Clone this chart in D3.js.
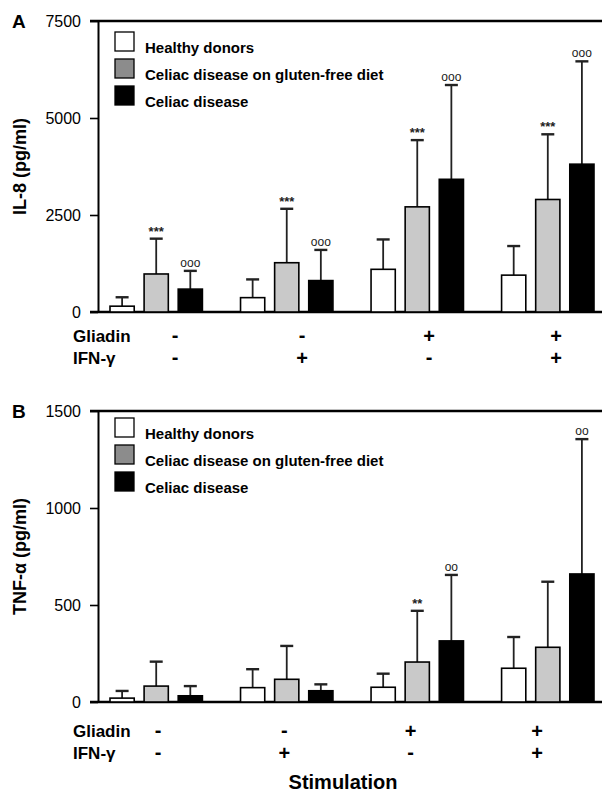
<!DOCTYPE html>
<html>
<head>
<meta charset="utf-8">
<script src="https://cdn.jsdelivr.net/npm/d3@7"></script>
<style>
  body { margin: 0; background: #fff; }
  text { font-family: "Liberation Sans", Arial, sans-serif; }
</style>
</head>
<body>
<div id="chart"></div>
<script>
// stimulation conditions
const groups = ['c1', 'c2', 'c3', 'c4'];
const gliadin = ['-', '-', '+', '+'];
const ifng = ['-', '+', '-', '+'];
const seriesNames = ['Healthy donors', 'Celiac disease on gluten-free diet', 'Celiac disease'];

// IL-8 (pg/ml): means and upper end of error bars
const il8Healthy = [150, 370, 1100, 950];
const il8HealthyTop = [380, 840, 1870, 1700];
const il8Gfd = [980, 1270, 2710, 2900];
const il8GfdTop = [1890, 2660, 4430, 4580];
const il8Cd = [590, 810, 3420, 3810];
const il8CdTop = [1060, 1600, 5850, 6460];
const il8GfdMarks = ['***', '***', '***', '***'];
const il8CdMarks = ['ooo', 'ooo', 'ooo', 'ooo'];
const il8Ticks = [0, 2500, 5000, 7500];

// TNF-alpha (pg/ml)
const tnfHealthy = [20, 74, 76, 174];
const tnfHealthyTop = [57, 169, 146, 335];
const tnfGfd = [82, 117, 206, 282];
const tnfGfdTop = [208, 289, 470, 620];
const tnfCd = [32, 58, 315, 660];
const tnfCdTop = [82, 91, 655, 1355];
const tnfGfdMarks = ['', '', '**', ''];
const tnfCdMarks = ['', '', 'oo', 'oo'];
const tnfTicks = [0, 500, 1000, 1500];

const fills = ['#ffffff', '#c9c9c9', '#000000'];
const legendFills = ['#ffffff', '#8c8c8c', '#000000'];

const svg = d3.select('#chart')
  .append('svg')
    .attr('width', 602)
    .attr('height', 793)
    .style('background-color', '#fff');

const axisX = 98;

const x0 = d3.scaleBand().domain(groups).range([110, 594]).paddingInner(0.292).paddingOuter(0);
const x1 = d3.scaleBand().domain(d3.range(3)).range([0, x0.bandwidth()]).paddingInner(0.29).paddingOuter(0);

function panel(opt) {
  const y = d3.scaleLinear().domain([0, opt.max]).range([opt.bottom, opt.top]);
  const g = svg.append('g');

  // panel letter
  g.append('text')
    .attr('x', 12).attr('y', opt.top + 7)
    .style('font-size', '19px').style('font-weight', 'bold')
    .text(opt.letter);

  // y axis
  const ax = g.append('g')
    .attr('transform', `translate(${axisX},0)`)
    .call(d3.axisLeft(y).tickValues(opt.ticks).tickFormat(d3.format('d'))
      .tickSize(8).tickSizeOuter(0).tickPadding(9));
  ax.select('.domain').attr('stroke', '#000').attr('stroke-width', 2);
  ax.selectAll('.tick line').attr('stroke', '#000').attr('stroke-width', 1.6);
  ax.selectAll('.tick text')
    .style('font-size', '16px')
    .style('font-family', '"Liberation Sans", Arial, sans-serif')
    .attr('fill', '#000');

  // top and bottom lines
  [opt.top, opt.bottom].forEach(v => {
    g.append('line')
      .attr('x1', axisX - 8).attr('x2', 602)
      .attr('y1', v).attr('y2', v)
      .attr('stroke', '#000').attr('stroke-width', 2.5);
  });

  // y label
  g.append('text')
    .attr('transform', `translate(26,${(opt.top + opt.bottom) / 2}) rotate(-90)`)
    .attr('text-anchor', 'middle')
    .style('font-size', '18px').style('font-weight', 'bold')
    .text(opt.label);

  // legend
  const leg = g.selectAll('.leg')
    .data(seriesNames)
    .enter().append('g')
      .attr('transform', (d, i) => `translate(115,${opt.legendTop + i * 27})`);
  leg.append('rect')
    .attr('width', 19).attr('height', 19)
    .attr('fill', (d, i) => legendFills[i])
    .attr('stroke', '#000').attr('stroke-width', 1.3);
  leg.append('text')
    .attr('x', 30).attr('y', 21)
    .style('font-size', '15px').style('font-weight', 'bold')
    .text(d => d);

  // bars
  const rows = groups.map((k, i) => ({
    key: k,
    vals: opt.means.map((m, s) => ({ s: s, v: m[i], top: opt.tops[s][i], mark: opt.marks[s] ? opt.marks[s][i] : '' }))
  }));

  const grp = g.selectAll('.grp')
    .data(rows)
    .enter().append('g')
      .attr('transform', d => `translate(${x0(d.key)},0)`);

  const bar = grp.selectAll('.bar')
    .data(d => d.vals)
    .enter().append('g');

  // error bars (upper only)
  bar.append('line')
    .attr('x1', d => x1(d.s) + x1.bandwidth() / 2)
    .attr('x2', d => x1(d.s) + x1.bandwidth() / 2)
    .attr('y1', d => y(d.v))
    .attr('y2', d => y(d.top))
    .attr('stroke', '#222').attr('stroke-width', 1.8);
  bar.append('line')
    .attr('x1', d => x1(d.s) + x1.bandwidth() / 2 - 6.5)
    .attr('x2', d => x1(d.s) + x1.bandwidth() / 2 + 6.5)
    .attr('y1', d => y(d.top))
    .attr('y2', d => y(d.top))
    .attr('stroke', '#222').attr('stroke-width', 2.4);

  bar.append('rect')
    .attr('x', d => x1(d.s))
    .attr('width', x1.bandwidth())
    .attr('y', d => y(d.v))
    .attr('height', d => y(0) - y(d.v))
    .attr('fill', d => fills[d.s])
    .attr('stroke', '#000').attr('stroke-width', 1.6);

  bar.filter(d => d.mark)
    .append('text')
      .attr('x', d => x1(d.s) + x1.bandwidth() / 2)
      .attr('y', d => y(d.top) - (d.mark[0] === 'o' ? 4 : 3))
      .attr('text-anchor', 'middle')
      .style('font-size', d => d.mark[0] === 'o' ? '12px' : '13px')
      .style('font-weight', d => d.mark[0] === 'o' ? 'normal' : 'bold')
      .attr('fill', '#222')
      .text(d => d.mark);

  // stimulation rows
  const sx = d3.scalePoint().domain(groups).range(opt.signRange);
  [[gliadin, 'Gliadin', opt.row1], [ifng, 'IFN-\u03b3', opt.row2]].forEach(([signs, name, cy]) => {
    g.append('text')
      .attr('x', 73).attr('y', cy + 6)
      .style('font-size', '17px').style('font-weight', 'bold')
      .text(name);
    g.selectAll(null)
      .data(groups)
      .enter().append('text')
        .attr('x', d => sx(d))
        .attr('y', (d, i) => cy + (signs[i] === '+' ? 7 : 6))
        .attr('text-anchor', 'middle')
        .style('font-size', '20px').style('font-weight', 'bold')
        .text((d, i) => signs[i]);
  });
}

panel({
  letter: 'A', label: 'IL-8 (pg/ml)', max: 7500, ticks: il8Ticks,
  top: 21, bottom: 312, legendTop: 32,
  means: [il8Healthy, il8Gfd, il8Cd],
  tops: [il8HealthyTop, il8GfdTop, il8CdTop],
  marks: [null, il8GfdMarks, il8CdMarks],
  signRange: [175, 556], row1: 336, row2: 358
});

panel({
  letter: 'B', label: 'TNF-\u03b1 (pg/ml)', max: 1500, ticks: tnfTicks,
  top: 411, bottom: 702, legendTop: 418,
  means: [tnfHealthy, tnfGfd, tnfCd],
  tops: [tnfHealthyTop, tnfGfdTop, tnfCdTop],
  marks: [null, tnfGfdMarks, tnfCdMarks],
  signRange: [158, 537], row1: 731, row2: 753
});

svg.append('text')
  .attr('x', 343).attr('y', 789)
  .attr('text-anchor', 'middle')
  .style('font-size', '20px').style('font-weight', 'bold')
  .text('Stimulation');
</script>
</body>
</html>
